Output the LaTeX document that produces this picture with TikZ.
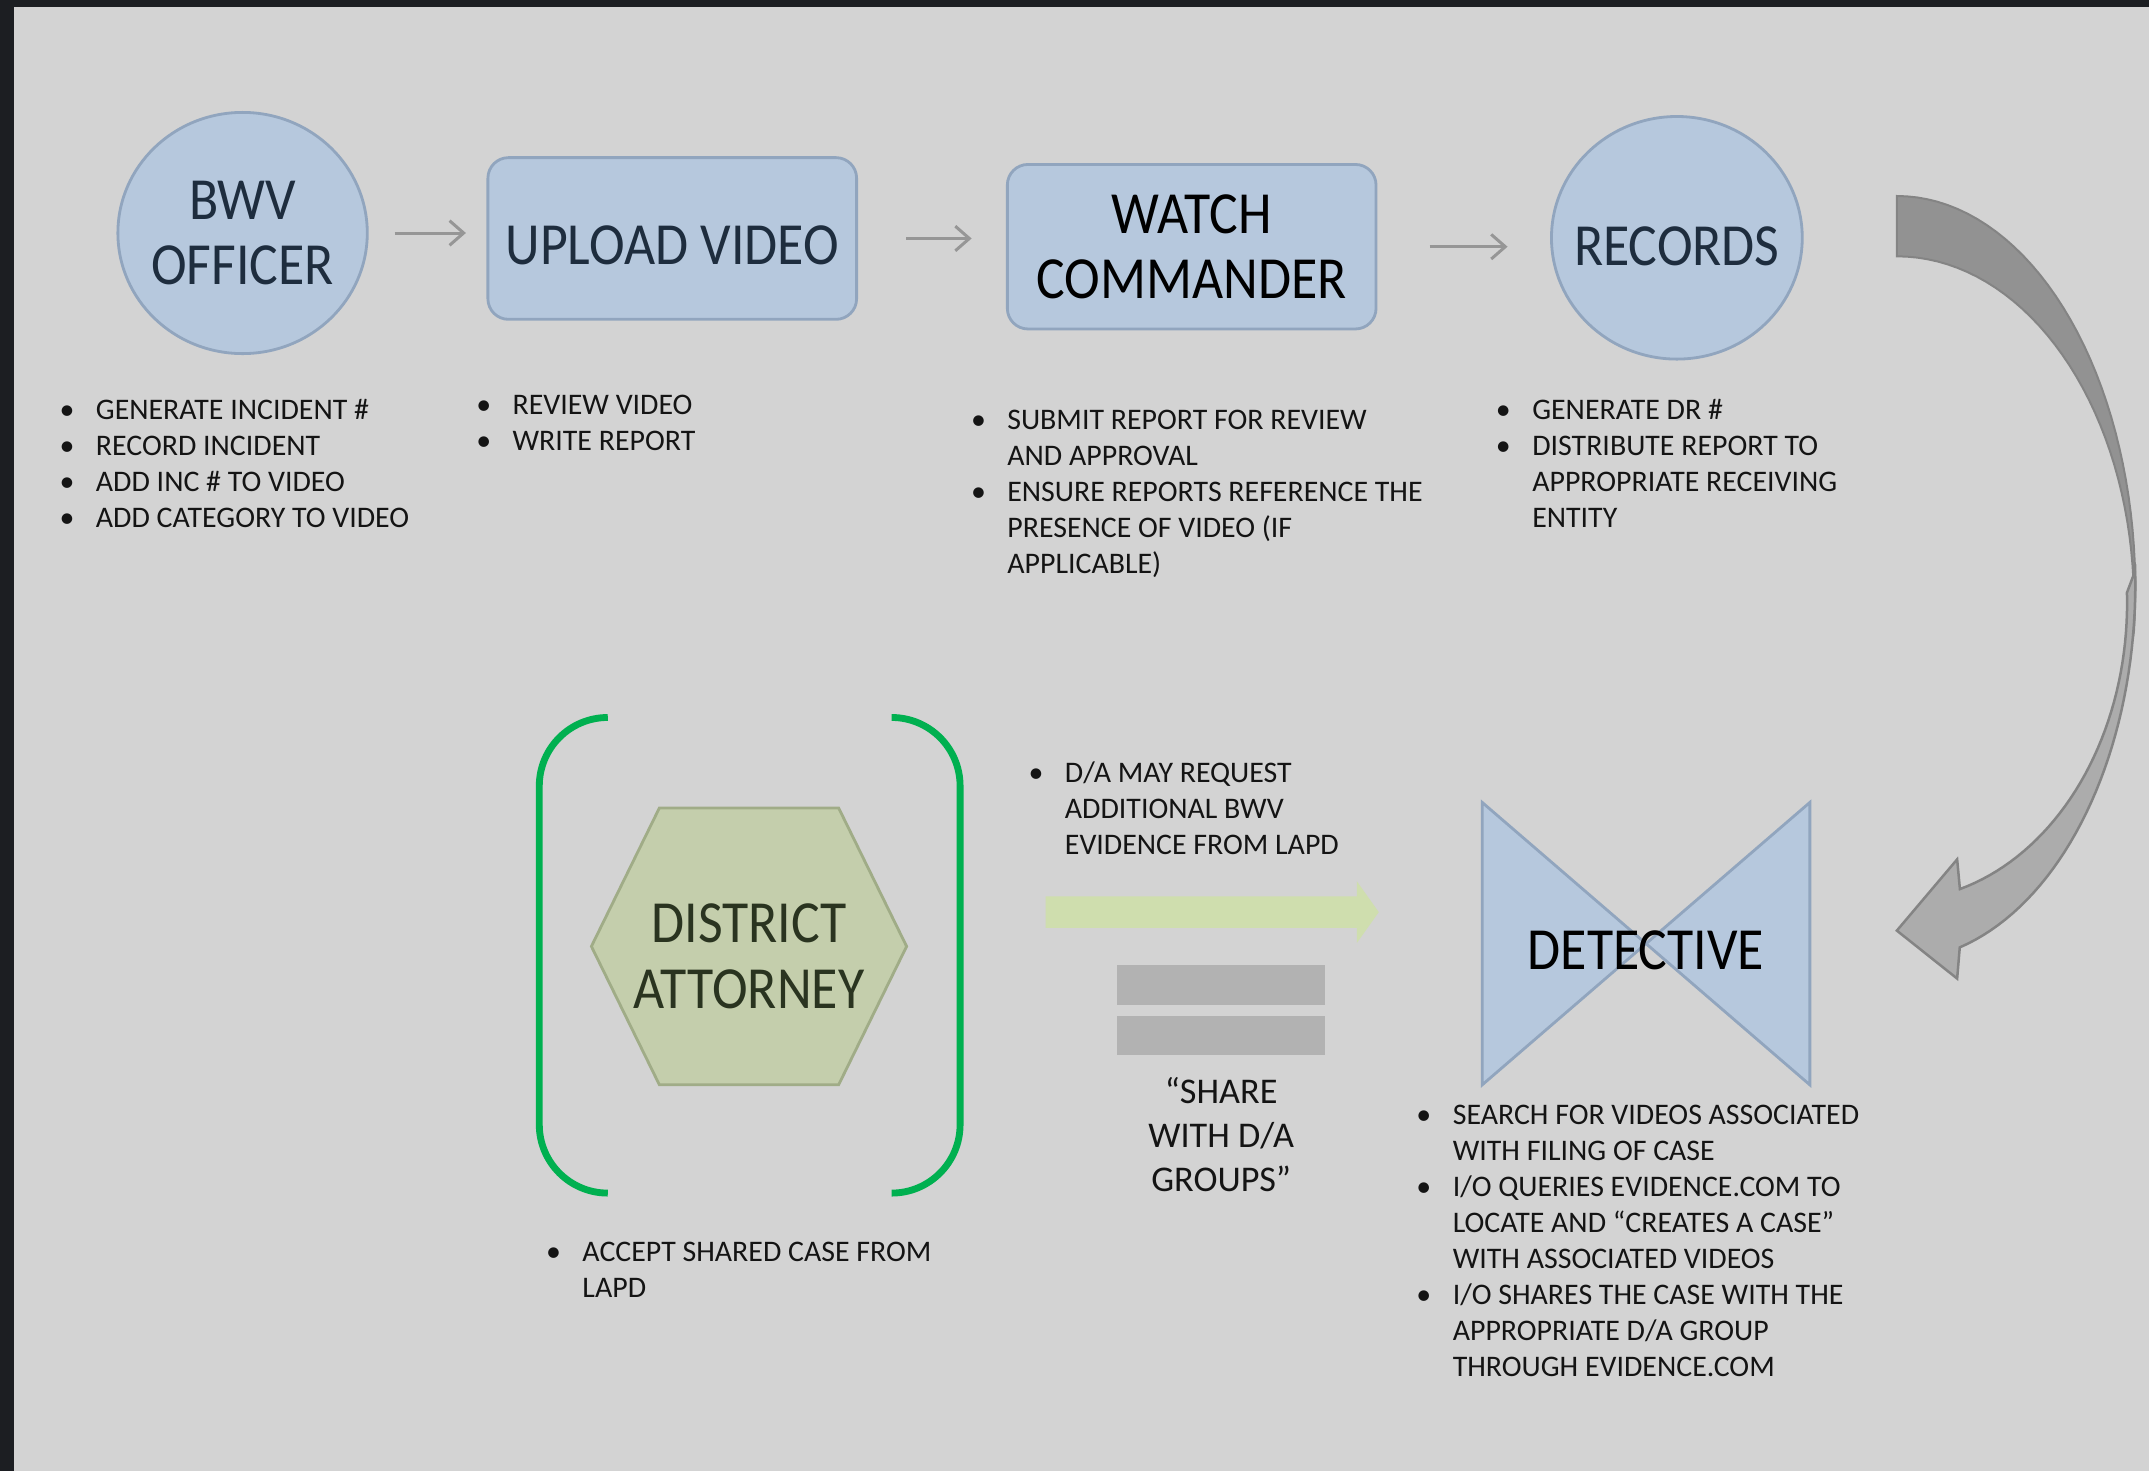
\documentclass[tikz,border=0pt]{standalone}
\usepackage{fontspec}
\setmainfont{Carlito}
\newfontfamily\titlefont[FakeStretch=0.9]{Carlito}
\usepackage{xcolor}
\usepackage{tikz}
\usetikzlibrary{arrows.meta,shapes.geometric}

\definecolor{bgpanel}{RGB}{211,211,211}
\definecolor{framedark}{RGB}{28,30,34}
\definecolor{bwvblue}{RGB}{182,200,221}
\definecolor{bwvedge}{RGB}{145,165,190}
\definecolor{titleink}{RGB}{30,45,62}
\definecolor{noteink}{RGB}{20,20,20}
\definecolor{daolive}{RGB}{196,206,172}
\definecolor{daedge}{RGB}{160,172,135}
\definecolor{daink}{RGB}{42,52,32}
\definecolor{bracketgreen}{RGB}{0,176,80}
\definecolor{requestgreen}{RGB}{207,222,174}
\definecolor{bargray}{RGB}{178,178,178}
\definecolor{flowgray}{RGB}{150,150,150}
\definecolor{bandback}{RGB}{146,146,146}
\definecolor{bandfront}{RGB}{172,172,172}
\definecolor{bandedge}{RGB}{132,132,132}

\newcommand{\bl}{\makebox[3.63mm][l]{•}}
\newcommand{\cont}{\hspace*{3.63mm}}

\begin{document}
\begin{tikzpicture}[x=0.13705mm, y=-0.13705mm, >=Stealth, font=\small]
\tikzstyle{actor}=[
    ellipse, draw=bwvedge, line width=0.8pt, fill=bwvblue,
    align=center, inner sep=0, inner xsep=-2mm, text=titleink,
    font=\titlefont\fontsize{17}{18.7}\selectfont
]
\tikzstyle{task}=[
    rectangle, rounded corners=2.06mm, draw=bwvedge, line width=0.8pt,
    fill=bwvblue, align=center, inner sep=0, text=titleink,
    minimum width=36.87mm,
    font=\titlefont\fontsize{17}{18.7}\selectfont
]
\tikzstyle{shapebox}=[rectangle, inner sep=0]
\tikzstyle{title}=[align=center, inner sep=0, font=\titlefont\fontsize{17}{18.7}\selectfont]
\tikzstyle{notes}=[
    anchor=north west, inner sep=0, align=left, text=noteink,
    font=\fontsize{8.5}{10.25}\selectfont
]
\tikzstyle{flow}=[draw=flowgray, line width=0.3mm, -{Straight Barb[length=4pt,width=7pt]}]
\tikzstyle{bracket}=[draw=bracketgreen, line width=0.685mm, rounded corners=6.85mm]

\fill[bgpanel] (0,0) rectangle (1568,1073);
\fill[framedark] (0,0) rectangle (1568,5);
\fill[framedark] (0,0) rectangle (10,1073);
\useasboundingbox (0,0) rectangle (1568,1073);

\node[actor, minimum width=24.94mm, minimum height=24.12mm] (bwv) at (177,170) {BWV\\OFFICER};
\node[task, minimum height=16.17mm, text height=14.8pt, text depth=0pt] (upload) at (490.5,174) {UPLOAD VIDEO};
\node[task, minimum height=16.45mm, text=black] (watch) at (869.5,180) {WATCH\\COMMANDER};
\node[actor, minimum width=25.08mm, minimum height=24.26mm, text height=15.6pt, text depth=0pt] (records) at (1223.5,173.5) {RECORDS};

\draw[flow, shorten <=2.6mm, shorten >=2.06mm] (bwv.east) -- (bwv.east -| upload.west);
\draw[flow, shorten <=4.8mm, shorten >=3.43mm] (upload.east) -- (upload.east -| watch.west);
\draw[flow, shorten <=5.21mm, shorten >=4.25mm] (watch.east) -- (watch.east -| records.west);

\node[notes] (bwvnotes) at (43,291) {\bl GENERATE INCIDENT \#\\ \bl RECORD INCIDENT\\ \bl ADD INC \# TO VIDEO\\ \bl ADD CATEGORY TO VIDEO};
\node[notes] (uploadnotes) at (347,288) {\bl REVIEW VIDEO\\ \bl WRITE REPORT};
\node[notes] (watchnotes) at (708,299) {\bl SUBMIT REPORT FOR REVIEW\\ \cont AND APPROVAL\\ \bl ENSURE REPORTS REFERENCE THE\\ \cont PRESENCE OF VIDEO (IF\\ \cont APPLICABLE)};
\node[notes] (recordsnotes) at (1091,291) {\bl GENERATE DR \#\\ \bl DISTRIBUTE REPORT TO\\ \cont APPROPRIATE RECEIVING\\ \cont ENTITY};

% records -> detective
\filldraw[fill=bandback, draw=bandedge, line width=0.2mm]
    plot[domain=-90:6, samples=40] ({1384+174*cos(\x)},{430+287*sin(\x)})
    -- plot[domain=6:-90, samples=40] ({1384+173*cos(\x)},{440+253*sin(\x)}) -- cycle;
\filldraw[fill=bandfront, draw=bandedge, line width=0.25mm]
    plot[domain=-2:74.7, samples=40] ({1384+174*cos(\x)},{426+275*sin(\x)})
    -- (1428,714) -- (1384,679) -- (1428,627)
    -- plot[domain=74.1:-2, samples=40] ({1384+168*cos(\x)},{440+217*sin(\x)}) -- cycle;

\node[shapebox, minimum width=41.94mm, minimum height=47.42mm] (brackets) at (547,697) {};
\draw[bracket] ([xshift=6.85mm]brackets.north west) -- (brackets.north west) -- (brackets.south west) -- ([xshift=6.85mm]brackets.south west);
\draw[bracket] ([xshift=-6.85mm]brackets.north east) -- (brackets.north east) -- (brackets.south east) -- ([xshift=-6.85mm]brackets.south east);

\node[shapebox, minimum width=31.38mm, minimum height=27.55mm] (dashape) at (546.5,690.5) {};
\filldraw[fill=daolive, draw=daedge, line width=0.8pt] (dashape.west) -- ([xshift=6.8mm]dashape.north west) -- ([xshift=-6.8mm]dashape.north east) -- (dashape.east) -- ([xshift=-6.8mm]dashape.south east) -- ([xshift=6.8mm]dashape.south west) -- cycle;
\node[title, text=daink] (da) at ([yshift=-0.96mm]dashape.center) {DISTRICT\\ATTORNEY};

\node[shapebox, minimum width=32.62mm, minimum height=28.10mm] (detshape) at (1201,688.5) {};
\filldraw[fill=bwvblue, draw=bwvedge, line width=0.8pt] (detshape.north west) -- (detshape.center) -- (detshape.north east) -- (detshape.south east) -- (detshape.center) -- (detshape.south west) -- cycle;
\node[title, text=black] (det) at ([yshift=-0.69mm]detshape.center) {DETECTIVE};

\fill[requestgreen] (763,654) -- (990,654) -- (990,643) -- (1006,665.5) -- (990,688) -- (990,677) -- (763,677) -- cycle;
\fill[bargray] (815,704) rectangle (967,733);
\fill[bargray] (815,741) rectangle (967,770);
\node[align=center, inner sep=0, text=noteink, font=\fontsize{10.3}{12.5}\selectfont] (share) at (891,828) {“SHARE\\WITH D/A\\GROUPS”};

\node[notes] (requestnotes) at (750,555) {\bl D/A MAY REQUEST\\ \cont ADDITIONAL BWV\\ \cont EVIDENCE FROM LAPD};
\node[notes] (acceptnotes) at (398,906) {\bl ACCEPT SHARED CASE FROM\\ \cont LAPD};
\node[notes] (detnotes) at (1033,806) {\bl SEARCH FOR VIDEOS ASSOCIATED\\ \cont WITH FILING OF CASE\\ \bl I/O QUERIES EVIDENCE.COM TO\\ \cont LOCATE AND “CREATES A CASE”\\ \cont WITH ASSOCIATED VIDEOS\\ \bl I/O SHARES THE CASE WITH THE\\ \cont APPROPRIATE D/A GROUP\\ \cont THROUGH EVIDENCE.COM};
\end{tikzpicture}
\end{document}
